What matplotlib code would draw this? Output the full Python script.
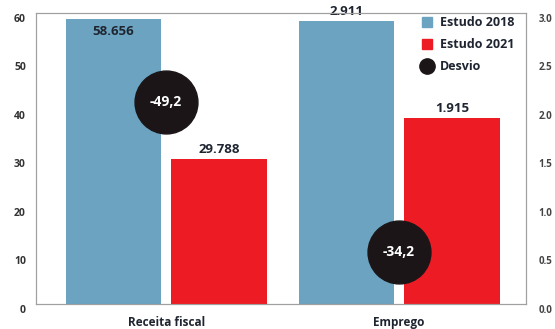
import matplotlib.pyplot as plt
import matplotlib.transforms as mtransforms
from matplotlib.lines import Line2D

plt.rcParams['font.family'] = ['Open Sans', 'DejaVu Sans']

# dados
categorias = ['Receita fiscal', 'Emprego']
estudo_2018 = [58.656, 2.911]
estudo_2021 = [29.788, 1.915]
desvio = [-49.2, -34.2]
rotulos_desvio = ['-49,2', '-34,2']

cor_2018 = '#6ba3c1'
cor_2021 = '#ed1c24'
cor_desvio = '#1b1517'
cor_texto = '#1e2530'
cor_borda = '#a0a0a0'

fig = plt.figure(figsize=(5.55, 3.29), dpi=100)
ax = fig.add_axes([0.0643, 0.076, 0.8837, 0.886])
ax2 = ax.twinx()
# eixo da esquerda por cima, para os circulos ficarem sobre as barras do emprego
ax.set_zorder(ax2.get_zorder() + 1)
ax.patch.set_visible(False)

larg = 0.41
desl = 0.227

# Receita fiscal no eixo esquerdo, Emprego no eixo direito
ax.bar(0 - desl, estudo_2018[0], larg, color=cor_2018)
ax.bar(0 + desl, estudo_2021[0], larg, color=cor_2021)
ax2.bar(1 - desl, estudo_2018[1], larg, color=cor_2018)
ax2.bar(1 + desl, estudo_2021[1], larg, color=cor_2021)

ax.set_xlim(-0.56, 1.545)
ax.set_ylim(0, 60)
ax2.set_ylim(0, 3.0)
ax.set_yticks(range(0, 61, 10))
ax2.set_yticks([0, 0.5, 1.0, 1.5, 2.0, 2.5, 3.0])
ax2.set_yticklabels(['0.0', '0.5', '1.0', '1.5', '2.0', '2.5', '3.0'])

def rotulo(eixo, x, v, dentro=False):
    off = -9 if dentro else 7
    eixo.annotate(f'{v:.3f}', (x, v), xytext=(0, off), textcoords='offset points',
                  ha='center', va='center', fontsize=9.5, fontweight='bold',
                  color=cor_texto, annotation_clip=False)

rotulo(ax, 0 - desl, estudo_2018[0], dentro=True)
rotulo(ax, 0 + desl, estudo_2021[0])
rotulo(ax2, 1 - desl, estudo_2018[1])
rotulo(ax2, 1 + desl, estudo_2021[1])

# circulos do desvio (altura no eixo esquerdo)
altura_desvio = [41.6, 10.7]
ax.scatter([0, 1], altura_desvio, s=2050, color=cor_desvio, zorder=5)
for x, y, t in zip([0, 1], altura_desvio, rotulos_desvio):
    ax.text(x, y, t, ha='center', va='center', color='white',
            fontsize=10, fontweight='bold', zorder=6)

ax.set_xticks([0, 1])
ax.set_xticklabels(categorias, fontsize=8.5, fontweight='bold', color=cor_texto)
ax.tick_params(axis='x', length=0, pad=9)
ax.tick_params(axis='y', length=0, pad=7, labelsize=7.5, labelcolor='#333333')
ax2.tick_params(axis='y', length=0, pad=9, labelsize=7, labelcolor='#444444')
for lab in ax.get_yticklabels() + ax2.get_yticklabels():
    lab.set_fontweight('bold')
    lab.set_transform(lab.get_transform() +
                      mtransforms.ScaledTranslation(0, -5 / 100, fig.dpi_scale_trans))

for eixo in (ax, ax2):
    for s in eixo.spines.values():
        s.set_color(cor_borda)
        s.set_linewidth(0.8)

handles = [
    Line2D([], [], marker='s', linestyle='', color=cor_2018, markersize=7),
    Line2D([], [], marker='s', linestyle='', color=cor_2021, markersize=7),
    Line2D([], [], marker='o', linestyle='', color=cor_desvio, markersize=11),
]
leg = ax.legend(handles, ['Estudo 2018', 'Estudo 2021', 'Desvio'],
                loc='upper left', bbox_to_anchor=(420.75 / 555, 1 - 16 / 329),
                bbox_transform=fig.transFigure, frameon=False, borderpad=0,
                borderaxespad=0, handlelength=1, handletextpad=0.5,
                labelspacing=0.72, prop={'size': 9, 'weight': 'bold'})
for t in leg.get_texts():
    t.set_color(cor_texto)

fig.savefig('out.png', dpi=100)
